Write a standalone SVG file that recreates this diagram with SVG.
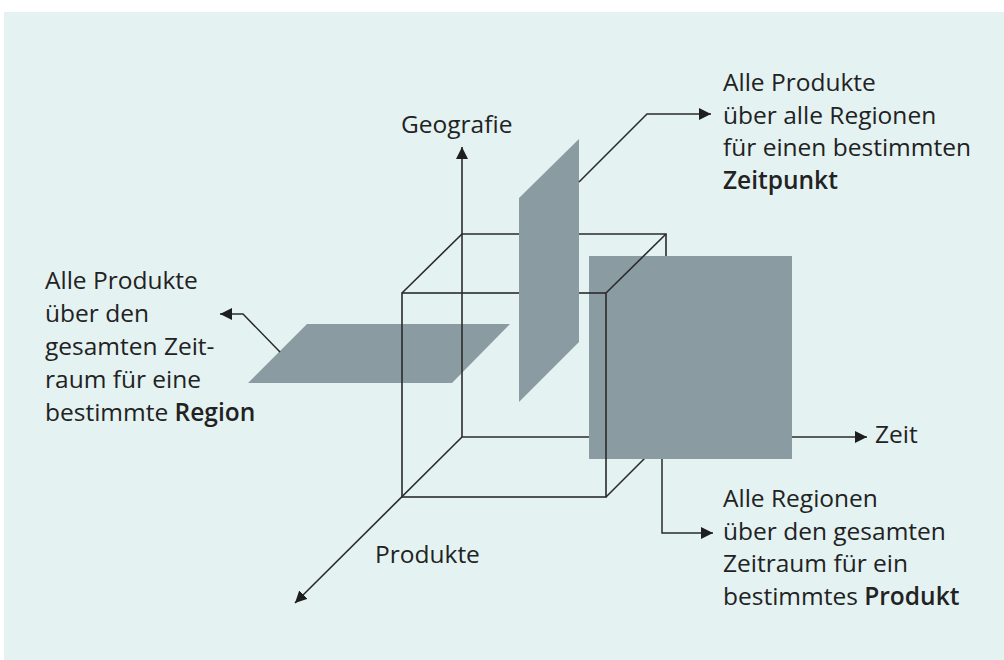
<svg xmlns="http://www.w3.org/2000/svg" width="1004" height="660" viewBox="0 0 1004 660">
  <style>
    .edge { fill: none; stroke: #2b2b2b; stroke-width: 1.6; }
    .lead { fill: none; stroke: #2b2b2b; stroke-width: 1.5; }
    .slice { fill: #8a9ba1; }
    .label { font-family: "Open Sans", "Noto Sans", sans-serif; font-size: 24.5px; fill: #222222; }
    .strong { font-weight: 600; }
  </style>
  <defs>
    <marker id="tip" viewBox="0 0 12 12" refX="12" refY="6" markerWidth="12" markerHeight="12" markerUnits="userSpaceOnUse" orient="auto">
      <path d="M0,0 L12,6 L0,12 z" fill="#1e1e1e"/>
    </marker>
  </defs>

  <!-- panel -->
  <rect x="4" y="12" width="1000" height="648" fill="#e4f2f2"/>

  <!-- horizontal slice: one region -->
  <g id="slice-region">
    <polygon class="slice" points="307,324 510,324 452,383 248,383"/>
  </g>

  <!-- cube, rear edges -->
  <g id="cube-back">
    <polyline class="edge" points="402,293 462,234 666,234 666,437"/>
    <line class="edge" x1="606" y1="497" x2="666" y2="437"/>
  </g>

  <!-- axes -->
  <g id="axes">
    <line class="edge" x1="462" y1="437" x2="867" y2="437" marker-end="url(#tip)"/>
    <line class="edge" x1="462" y1="437" x2="462" y2="147" marker-end="url(#tip)"/>
    <line class="edge" x1="462" y1="437" x2="295" y2="603" marker-end="url(#tip)"/>
  </g>

  <!-- front slice: one product -->
  <g id="slice-product">
    <rect class="slice" x="589" y="256" width="203" height="203"/>
  </g>

  <!-- cube, front edges -->
  <g id="cube-front">
    <rect class="edge" x="402" y="293" width="204" height="204"/>
    <line class="edge" x1="606" y1="293" x2="666" y2="234"/>
  </g>

  <!-- vertical slice: one point in time -->
  <g id="slice-time">
    <polygon class="slice" points="519,198 579,139 579,342 519,402"/>
  </g>

  <!-- callout leaders -->
  <g id="connectors">
    <polyline class="lead" points="579,182 647,114 711,114" marker-end="url(#tip)"/>
    <polyline class="lead" points="280,352 243,314 220,314" marker-end="url(#tip)"/>
    <polyline class="lead" points="662,459 662,533 713,533" marker-end="url(#tip)"/>
  </g>

  <!-- axis labels -->
  <g id="axis-geografie"><text class="label" x="401" y="133">Geografie</text></g>
  <g id="axis-zeit"><text class="label" x="875" y="443">Zeit</text></g>
  <g id="axis-produkte"><text class="label" x="375" y="563">Produkte</text></g>

  <!-- callout texts -->
  <g id="note-zeitpunkt">
    <text class="label" x="723" y="91">Alle Produkte</text>
    <text class="label" x="723" y="123.5">über alle Regionen</text>
    <text class="label" x="723" y="156">für einen bestimmten</text>
    <text class="label strong" x="723" y="188.5">Zeitpunkt</text>
  </g>
  <g id="note-region">
    <text class="label" x="45" y="289">Alle Produkte</text>
    <text class="label" x="45" y="322">über den</text>
    <text class="label" x="45" y="355">gesamten Zeit-</text>
    <text class="label" x="45" y="388">raum für eine</text>
    <text class="label" x="45" y="421">bestimmte <tspan class="strong">Region</tspan></text>
  </g>
  <g id="note-produkt">
    <text class="label" x="723" y="507">Alle Regionen</text>
    <text class="label" x="723" y="539.5">über den gesamten</text>
    <text class="label" x="723" y="572">Zeitraum für ein</text>
    <text class="label" x="723" y="604.5">bestimmtes <tspan class="strong">Produkt</tspan></text>
  </g>
</svg>
